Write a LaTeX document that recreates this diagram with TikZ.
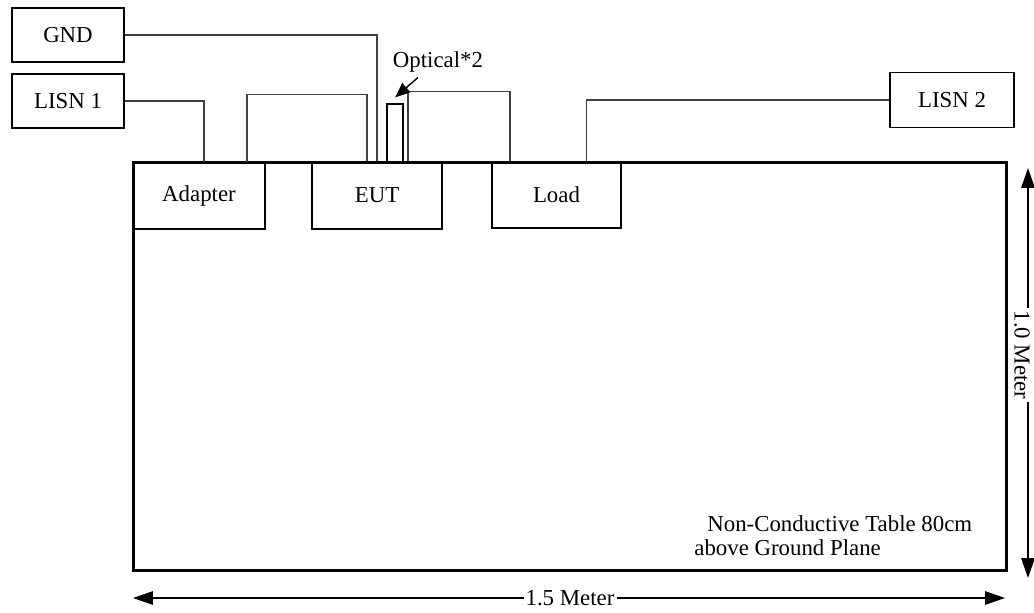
\documentclass[tikz,border=0pt]{standalone}
\usepackage{fontspec}
\setmainfont{Liberation Serif}
\usepackage{tikz}
\usetikzlibrary{arrows.meta}
\tikzstyle{box}=[draw, line width=0.8pt, inner sep=0pt, font=\fontsize{13}{13.7}\selectfont]
\tikzstyle{device}=[box, minimum width=2.6cm, minimum height=1.32cm]
\tikzstyle{lisn}=[box, minimum width=2.24cm, minimum height=1.08cm]
\tikzstyle{cable}=[black!75, line width=0.6pt]
\tikzstyle{dimtext}=[inner sep=1pt, font=\fontsize{13}{13.7}\selectfont]
\tikzstyle{dimline}=[line width=0.8pt, -{Triangle[length=0.4cm, width=0.27cm]}]

\begin{document}
\begin{tikzpicture}[x=0.02cm, y=-0.02cm]
        \useasboundingbox (0,0) rectangle (1034,612);
        % table
        \node[draw, line width=1.7pt, inner sep=0pt, minimum width=17.48cm, minimum height=8.18cm] (table) at (570,366.5) {};
        \node[dimtext, align=left, anchor=north west, inner sep=0pt] (tabletext) at (694,515) {\hspace*{0.26cm}Non-Conductive Table 80cm\\above Ground Plane};
        % devices
        \node[device, minimum width=2.64cm]                         (adapter) at (199,196)   {Adapter};
        \node[device, minimum height=1.34cm]                        (eut)     at (377,195.5) {EUT};
        \node[device, minimum width=2.58cm]                         (load)    at (556.5,195) {Load};
        \node[lisn]                                                 (gnd)     at (68,35)     {GND};
        \node[lisn]                                                 (lisn1)   at (68,101)    {LISN 1};
        \node[lisn, minimum width=2.48cm, minimum height=1.1cm]     (lisn2)   at (952,100)   {LISN 2};
        \node[draw, line width=0.6pt, inner sep=0pt, minimum width=0.32cm, minimum height=1.16cm] (optical) at (395,133) {};
        \node[dimtext]                                              (optlabel) at (438,62)   {Optical*2};
        % cables
        \draw[cable] (gnd.east) -| (eut.north);
        \draw[cable] (lisn1.east) -| ([xshift=0.1cm]adapter.north);
        \draw[cable] ([xshift=0.96cm]adapter.north) -- ++(0,1.36cm) -| ([xshift=-0.2cm]eut.north);
        \draw[cable] ([xshift=0.62cm]eut.north) -- ++(0,1.4cm) -| ([xshift=-0.93cm]load.north);
        \draw[cable] ([xshift=0.6cm]load.north) |- (lisn2.west);
        \draw[line width=0.8pt, -{Triangle[length=0.3cm, width=0.24cm]}] ([xshift=-0.4cm, yshift=-0.06cm]optlabel.south) -- ([yshift=0.12cm]optical.north);
        % dimensions
        \node[dimtext]             (width) at (570,598)  {1.5 Meter};
        \node[dimtext, rotate=-90] (depth) at (1022,355) {1.0 Meter};
        \coordinate (wl) at (133,598);
        \coordinate (wr) at (1005,598);
        \coordinate (dt) at (1028,168);
        \coordinate (db) at (1028,578);
        \draw[dimline] (width.west) -- (wl);
        \draw[dimline] (width.east) -- (wr);
        \draw[dimline] (depth.west -| dt) -- (dt);
        \draw[dimline] (depth.east -| db) -- (db);
    \end{tikzpicture}
\end{document}
